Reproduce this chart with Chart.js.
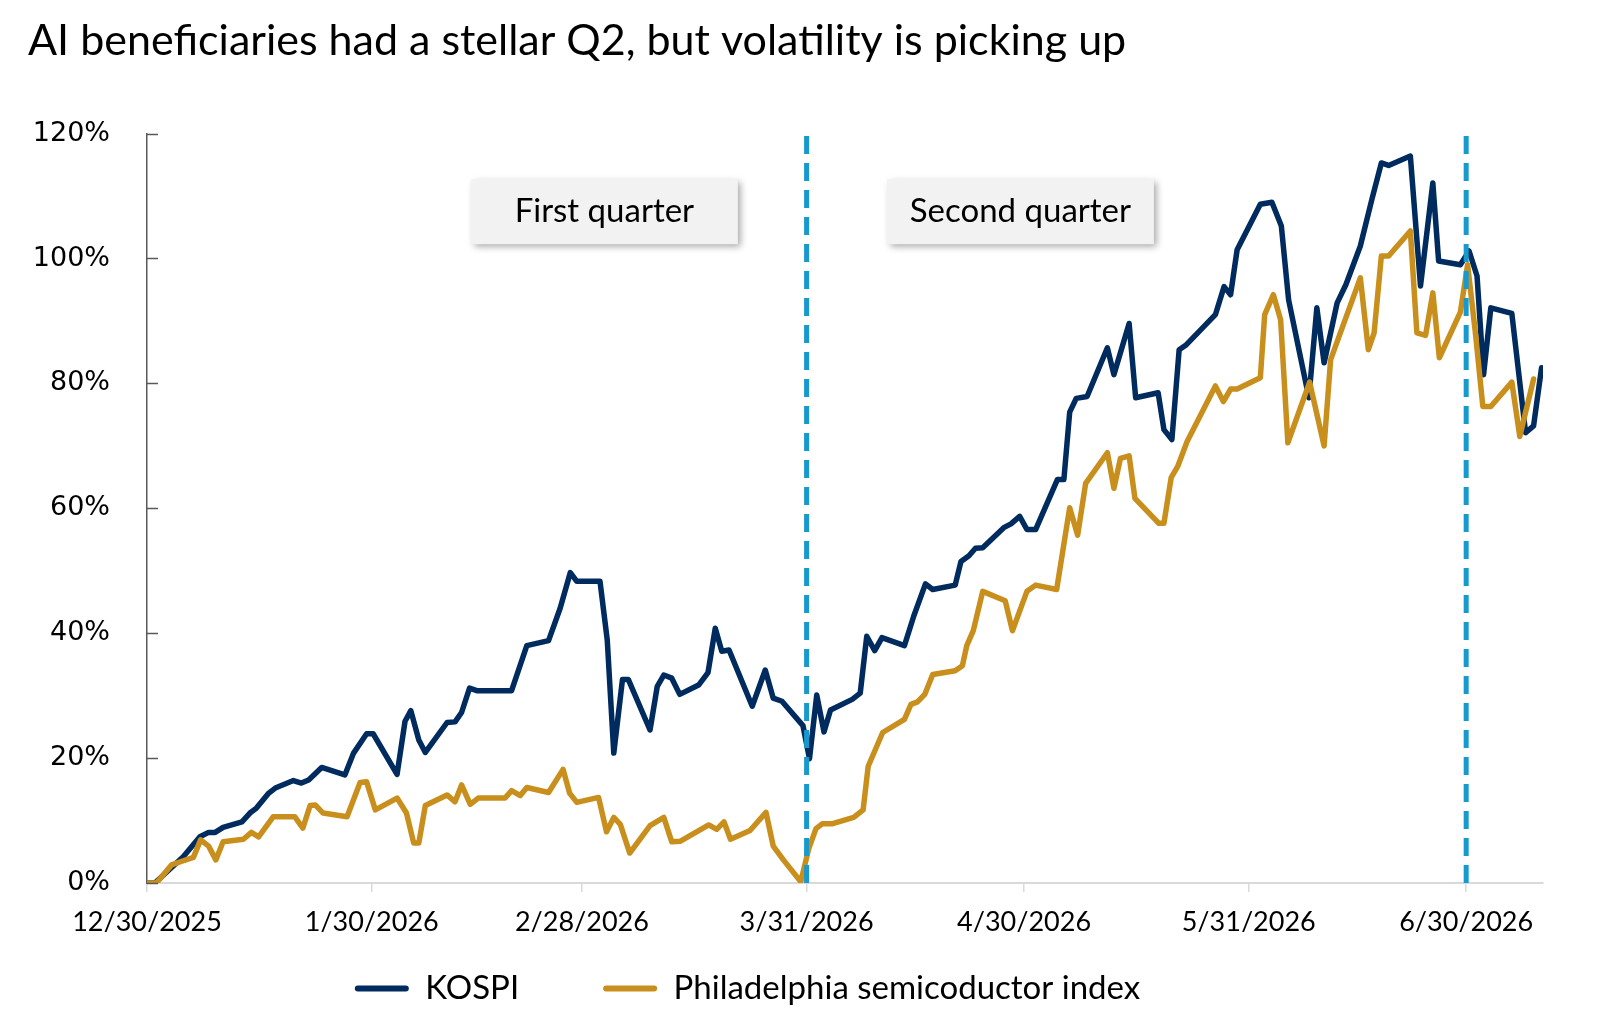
<!DOCTYPE html>
<html><head><meta charset="utf-8">
<script src="https://cdn.jsdelivr.net/npm/chart.js@4.4.1/dist/chart.umd.min.js"></script>
<style>html,body{margin:0;padding:0;background:#fff;}canvas{display:block;}</style>
</head><body>
<canvas id="c" width="1600" height="1030"></canvas>
<script>
// ---- data (x = calendar-day offset from 12/30/2025) ----
const chartTitle = 'AI beneficiaries had a stellar Q2, but volatility is picking up';
const seriesNames = ['KOSPI', 'Philadelphia semicoductor index'];
const kospiDays = [0,1.1,3.2,5.0,7.3,8.5,9.4,10.5,13.1,14.2,15.1,16.8,17.7,20.2,21.3,22.3,24.1,27.3,28.5,30.3,31.2,34.5,35.6,36.4,37.5,38.4,41.4,42.5,43.4,44.5,45.5,50.3,52.4,55.4,57.0,58.4,59.3,62.5,63.5,64.4,65.6,66.4,69.4,70.4,71.3,72.4,73.5,76.1,77.4,78.4,79.3,80.3,83.5,85.3,86.4,87.6,90.5,91.4,92.4,93.4,94.3,97.3,98.4,99.3,100.4,101.4,104.5,105.8,107.4,108.4,111.5,112.3,113.4,114.3,115.3,118.2,119.2,120.4,121.4,122.6,125.6,126.5,127.3,128.2,129.7,132.5,133.4,135.5,136.4,139.5,140.3,141.4,142.4,143.3,147.4,148.6,149.5,150.4,153.6,155.2,156.5,157.5,160.3,161.4,162.4,164.2,165.4,167.4,169.0,170.3,171.3,174.3,175.7,177.4,178.2,181.2,182.4,183.5,184.4,185.4,188.3,190.2,191.3,192.4];
const kospiValues = [0,0,2.3,4.2,7.4,8.1,8.1,8.9,9.8,11.2,12.0,14.4,15.2,16.4,16.0,16.5,18.5,17.3,20.8,23.9,23.9,17.4,25.9,27.6,22.9,20.9,25.7,25.8,27.3,31.2,30.8,30.8,38.0,38.8,44.0,49.7,48.3,48.3,38.9,20.8,32.6,32.6,24.5,31.5,33.3,32.8,30.2,31.7,33.7,40.8,37.1,37.3,28.3,34.1,29.6,29.1,25.2,19.9,30.1,24.2,27.7,29.4,30.4,39.5,37.2,39.3,38.0,42.8,47.9,47.0,47.7,51.5,52.4,53.6,53.7,56.9,57.5,58.7,56.6,56.6,64.6,64.6,75.4,77.6,77.9,85.7,81.4,89.6,77.7,78.5,72.6,71.0,85.4,86.1,91.0,95.5,94.2,101.4,108.7,109.0,105.2,93.4,77.7,92.1,83.3,92.9,95.8,102.0,109.5,115.3,114.9,116.4,95.6,112.1,99.6,99.0,101.2,97.2,81.4,92.1,91.2,72.1,73.2,82.5];
const soxDays = [0,1.3,3.4,4.6,6.4,7.4,8.5,9.5,10.5,13.3,14.4,15.4,17.4,20.4,21.5,22.5,23.2,24.3,27.6,29.4,30.3,31.5,34.5,35.8,36.8,37.5,38.4,41.4,42.5,43.4,44.6,45.7,49.4,50.3,51.5,52.4,55.4,57.4,58.3,59.3,62.3,63.4,64.4,65.3,66.6,69.4,71.3,72.4,73.6,77.5,78.6,79.6,80.5,83.2,85.4,86.4,87.8,90.2,91.3,92.3,93.2,94.6,97.5,98.8,99.5,101.5,104.5,105.4,106.3,107.3,108.4,111.5,112.5,113.1,114.0,115.3,118.4,119.4,121.4,122.6,125.5,127.3,128.4,129.5,132.5,133.4,134.3,135.5,136.3,139.6,140.3,141.3,142.2,143.5,147.4,148.5,149.5,150.4,153.6,154.2,155.4,156.4,157.4,160.4,162.4,163.3,167.4,168.5,169.3,170.3,171.3,174.3,175.2,176.4,177.4,178.3,181.2,182.2,183.3,184.3,185.4,188.3,189.4,191.3];
const soxValues = [0,0,2.9,3.4,4.1,6.9,5.9,3.7,6.6,7.0,8.1,7.4,10.6,10.6,8.8,12.4,12.5,11.2,10.6,16.1,16.2,11.7,13.6,11.2,6.4,6.4,12.4,14.1,13.0,15.7,12.6,13.6,13.6,14.8,14.0,15.3,14.5,18.2,14.4,12.9,13.7,8.2,10.5,9.4,4.8,9.2,10.5,6.6,6.7,9.3,8.6,9.8,7.0,8.4,11.3,5.9,3.7,0.2,5.5,8.7,9.5,9.5,10.5,11.7,18.7,24.1,26.2,28.6,29.0,30.2,33.4,34.0,34.8,38.0,40.4,46.7,45.2,40.4,46.7,47.7,47.0,60.1,55.7,64.0,68.9,63.2,68.0,68.4,61.6,57.6,57.6,64.9,66.7,70.7,79.6,77.1,79.1,79.1,80.9,91.0,94.2,90.2,70.5,80.2,70.0,83.8,96.9,85.4,88.1,100.4,100.4,104.4,88.1,87.7,94.5,84.1,91.4,99.0,87.8,76.3,76.3,80.2,71.5,80.7];
const xTickDays = [0, 31, 60, 91, 121, 152, 182];
const xTickLabels = ['12/30/2025', '1/30/2026', '2/28/2026', '3/31/2026', '4/30/2026', '5/31/2026', '6/30/2026'];
const xMax = 192.6;
const quarterEndDays = [91, 182];
const yMin = 0, yMax = 120, yStep = 20;
const annotationLabels = ['First quarter', 'Second quarter'];

// ---- styles ----
const NAVY = '#002b5f';
const GOLD = '#c98f1d';
const DASH = '#1699cd';
const CAL = 'Lato, "Open Sans", sans-serif';

const toPts = (xs, ys) => xs.map((x, i) => ({x, y: ys[i]}));

const datasets = [
  { label: seriesNames[0], data: toPts(kospiDays, kospiValues), borderColor: NAVY, backgroundColor: NAVY, order: 1 },
  { label: seriesNames[1], data: toPts(soxDays, soxValues), borderColor: GOLD, backgroundColor: GOLD, order: 0 }
].map(d => Object.assign(d, { borderWidth: 5.5, pointRadius: 0, tension: 0, borderJoinStyle: 'round', borderCapStyle: 'round', fill: false }));

quarterEndDays.forEach(d => datasets.push({
  label: '_q', data: [{x: d, y: yMin}, {x: d, y: yMax}], borderColor: DASH, borderWidth: 5,
  borderDash: [18, 9], pointRadius: 0, fill: false, order: -1
}));

const extras = {
  id: 'extras',
  afterLayout(chart) {
    const lg = chart.legend;
    if (lg) { lg.left -= 38; lg.right -= 38; lg.top = 888; }
  },
  afterDraw(chart) {
    const {ctx, scales: {x, y}} = chart;
    // inward y-axis tick marks
    ctx.save();
    ctx.strokeStyle = '#595959';
    ctx.lineWidth = 1.5;
    y.ticks.forEach(t => {
      const py = Math.round(y.getPixelForValue(t.value)) + 0.5;
      ctx.beginPath(); ctx.moveTo(x.left, py); ctx.lineTo(x.left + 11, py); ctx.stroke();
    });
    ctx.restore();
    // quarter annotation boxes
    const boxes = [{day: 63.1, val: 107.5}, {day: 120.5, val: 107.5}];
    boxes.forEach((b, i) => {
      const cx = x.getPixelForValue(b.day), cy = y.getPixelForValue(b.val);
      const w = 267, h = 65;
      ctx.save();
      ctx.shadowColor = 'rgba(0,0,0,0.35)';
      ctx.shadowBlur = 7; ctx.shadowOffsetX = 3; ctx.shadowOffsetY = 3;
      ctx.fillStyle = '#f2f2f2';
      ctx.fillRect(cx - w / 2, cy - h / 2, w, h);
      ctx.restore();
      ctx.save();
      ctx.fillStyle = '#000';
      ctx.font = '33px ' + CAL;
      ctx.textAlign = 'center'; ctx.textBaseline = 'middle';
      ctx.fillText(annotationLabels[i], cx, cy);
      ctx.restore();
    });
  }
};

new Chart(document.getElementById('c'), {
  type: 'line',
  data: { datasets },
  plugins: [extras],
  options: {
    responsive: false,
    devicePixelRatio: 1,
    animation: false,
    layout: { padding: { left: 28, right: 57, top: 0, bottom: 8 } },
    plugins: {
      title: {
        display: true, text: chartTitle, align: 'start', color: '#000',
        font: { family: CAL, size: 43, weight: 'normal', lineHeight: 1.2 },
        padding: { top: 15, bottom: 67 }
      },
      legend: {
        position: 'bottom',
        maxHeight: 90,
        labels: {
          color: '#000', font: { family: CAL, size: 33 },
          boxWidth: 54, boxHeight: 6, padding: 84,
          generateLabels(chart) {
            return chart.data.datasets.map((ds, i) => ({
              text: ds.label, fillStyle: ds.borderColor, strokeStyle: ds.borderColor,
              lineWidth: 0, hidden: false, datasetIndex: i, borderRadius: 3, fontColor: '#000'
            })).filter(it => it.text !== '_q');
          }
        }
      },
      tooltip: { enabled: false }
    },
    scales: {
      x: {
        type: 'linear', min: 0, max: xMax,
        afterBuildTicks(s) { s.ticks = xTickDays.map(v => ({ value: v })); },
        afterFit(s) { s.height = 49; },
        ticks: {
          autoSkip: false, maxRotation: 0, minRotation: 0, color: '#000', padding: 14,
          font: { family: CAL, size: 27 },
          callback(v) { const i = xTickDays.indexOf(v); return i >= 0 ? xTickLabels[i] : ''; }
        },
        grid: { drawOnChartArea: false, drawTicks: true, tickLength: 9, color: '#d9d9d9', lineWidth: 1.5 },
        border: { color: '#d9d9d9', width: 2 }
      },
      y: {
        min: yMin, max: yMax,
        afterFit(s) { s.width = 147 - 28; },
        ticks: {
          stepSize: yStep, color: '#000', padding: 37,
          font: { family: '"DejaVu Sans", Verdana, sans-serif', size: 27 },
          callback: v => v + '%'
        },
        grid: { drawOnChartArea: false, drawTicks: false },
        border: { color: '#595959', width: 1.5 }
      }
    }
  }
});
</script>
</body></html>
